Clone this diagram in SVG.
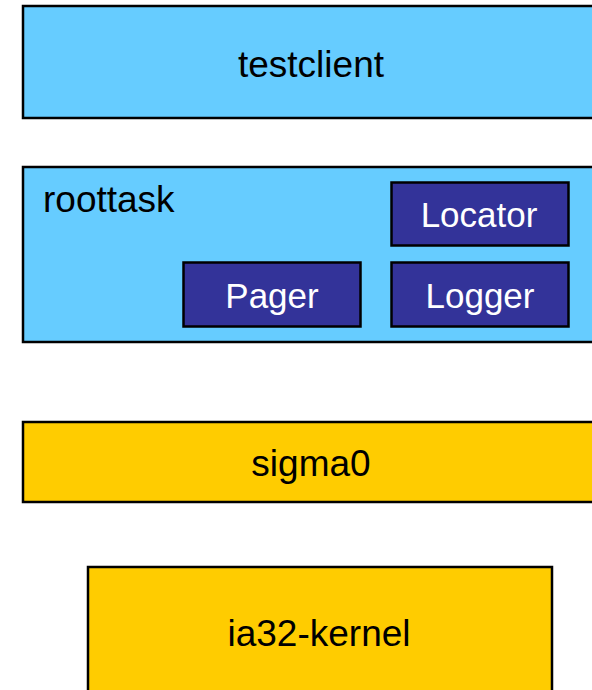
<svg xmlns="http://www.w3.org/2000/svg" width="592" height="690" viewBox="0 0 592 690">
  <style>
    .box { stroke: #000; stroke-width: 2.5; }
    .task { fill: #66CCFF; }
    .svc { fill: #333399; }
    .core { fill: #FFCC00; }
    text { font-family: "Liberation Sans", Arial, sans-serif; font-size: 37px; }
    .dark { fill: #000; }
    .light { fill: #fff; font-size: 35px; }
  </style>
  <g id="testclient">
    <rect class="box task" x="23" y="6" width="580" height="112"/>
    <text class="dark" x="311" y="77" text-anchor="middle">testclient</text>
  </g>
  <g id="roottask">
    <rect class="box task" x="23" y="167" width="580" height="175"/>
    <text class="dark" x="43" y="212">roottask</text>
  </g>
  <g id="locator">
    <rect class="box svc" x="391.5" y="182.5" width="177" height="63"/>
    <text class="light" x="479" y="227" text-anchor="middle">Locator</text>
  </g>
  <g id="pager">
    <rect class="box svc" x="183.5" y="262.5" width="177" height="64"/>
    <text class="light" x="272" y="308" text-anchor="middle">Pager</text>
  </g>
  <g id="logger">
    <rect class="box svc" x="391.5" y="262.5" width="177" height="64"/>
    <text class="light" x="480" y="308" text-anchor="middle">Logger</text>
  </g>
  <g id="sigma0">
    <rect class="box core" x="23" y="422" width="580" height="80"/>
    <text class="dark" x="311" y="476" text-anchor="middle">sigma0</text>
  </g>
  <g id="ia32-kernel">
    <rect class="box core" x="88" y="567" width="464" height="140"/>
    <text class="dark" x="319" y="646" text-anchor="middle">ia32-kernel</text>
  </g>
  <g id="connectors"/>
</svg>
